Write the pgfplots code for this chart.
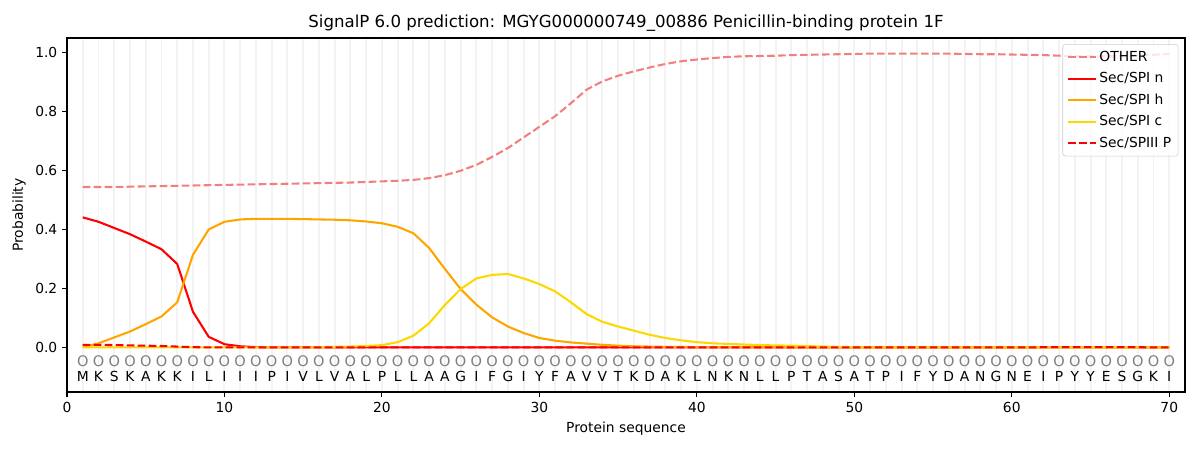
\documentclass[border=0pt]{standalone}
\usepackage{pgfplots}
\pgfplotsset{compat=1.18}
\usepackage{pgfplotstable}
\usepackage{fontspec}
\setmainfont{DejaVu Sans}
\definecolor{lightcoral}{HTML}{F08080}
\definecolor{mplorange}{HTML}{FFA500}
\definecolor{mplgold}{HTML}{FFD700}
\definecolor{gridgray}{HTML}{F3F3F3}
\definecolor{legedge}{HTML}{CCCCCC}

\pgfplotstableread{
x other n h c p l
1 0.545 0.442 0.002 0.001 0.010 M
2 0.545 0.427 0.015 0.001 0.010 K
3 0.545 0.406 0.035 0.001 0.009 S
4 0.546 0.385 0.055 0.001 0.008 K
5 0.547 0.360 0.080 0.001 0.007 A
6 0.548 0.334 0.106 0.001 0.006 K
7 0.549 0.284 0.154 0.001 0.004 K
8 0.550 0.122 0.315 0.001 0.002 I
9 0.551 0.037 0.401 0.001 0.001 L
10 0.552 0.012 0.427 0.001 0.001 I
11 0.553 0.005 0.435 0.001 0.001 I
12 0.554 0.002 0.437 0.001 0.001 I
13 0.555 0.001 0.437 0.001 0.001 P
14 0.556 0.001 0.437 0.001 0.001 I
15 0.557 0.001 0.436 0.001 0.001 V
16 0.558 0.001 0.435 0.002 0.001 L
17 0.559 0.001 0.434 0.003 0.001 V
18 0.560 0.001 0.432 0.004 0.001 A
19 0.562 0.001 0.428 0.006 0.001 L
20 0.564 0.001 0.422 0.009 0.001 P
21 0.566 0.001 0.410 0.019 0.001 L
22 0.569 0.001 0.388 0.041 0.001 L
23 0.575 0.001 0.338 0.083 0.001 A
24 0.585 0.001 0.267 0.145 0.001 A
25 0.600 0.001 0.199 0.199 0.001 G
26 0.620 0.001 0.146 0.235 0.001 I
27 0.647 0.001 0.103 0.247 0.001 F
28 0.677 0.001 0.072 0.250 0.001 G
29 0.713 0.001 0.050 0.235 0.001 I
30 0.749 0.001 0.033 0.216 0.001 Y
31 0.785 0.001 0.024 0.191 0.001 F
32 0.829 0.001 0.018 0.154 0.001 A
33 0.875 0.001 0.014 0.114 0.001 V
34 0.903 0.001 0.010 0.088 0.001 V
35 0.922 0.001 0.007 0.072 0.001 T
36 0.937 0.001 0.005 0.058 0.001 K
37 0.950 0.001 0.004 0.044 0.001 D
38 0.962 0.001 0.003 0.033 0.001 A
39 0.971 0.001 0.003 0.025 0.001 K
40 0.977 0.001 0.002 0.019 0.001 L
41 0.982 0.001 0.002 0.015 0.001 N
42 0.986 0.001 0.002 0.013 0.001 K
43 0.988 0.001 0.002 0.011 0.001 N
44 0.989 0.001 0.001 0.009 0.001 L
45 0.990 0.001 0.001 0.008 0.001 L
46 0.992 0.001 0.001 0.007 0.001 P
47 0.993 0.001 0.001 0.006 0.001 T
48 0.994 0.001 0.001 0.004 0.001 A
49 0.995 0.001 0.001 0.003 0.001 S
50 0.996 0.001 0.001 0.002 0.001 A
51 0.997 0.001 0.001 0.001 0.001 T
52 0.997 0.001 0.001 0.001 0.001 P
53 0.997 0.001 0.001 0.001 0.001 I
54 0.997 0.001 0.001 0.001 0.001 F
55 0.997 0.001 0.001 0.001 0.001 Y
56 0.997 0.001 0.001 0.001 0.001 D
57 0.996 0.001 0.001 0.001 0.001 A
58 0.995 0.001 0.001 0.001 0.001 N
59 0.995 0.001 0.001 0.001 0.001 G
60 0.994 0.001 0.001 0.001 0.001 N
61 0.993 0.001 0.001 0.001 0.001 E
62 0.992 0.001 0.001 0.001 0.002 I
63 0.990 0.001 0.001 0.001 0.002 P
64 0.989 0.001 0.001 0.001 0.002 Y
65 0.988 0.001 0.001 0.001 0.002 Y
66 0.988 0.001 0.001 0.001 0.002 E
67 0.988 0.001 0.001 0.001 0.002 S
68 0.990 0.001 0.001 0.001 0.002 G
69 0.993 0.001 0.001 0.001 0.001 K
70 0.996 0.001 0.001 0.001 0.001 I
}\seqdata

\begin{document}
\begin{tikzpicture}
\begin{axis}[
  scale only axis, width=11.18in, height=3.54in,
  xmin=0, xmax=71, ymin=-0.15, ymax=1.05,
  xtick={0,10,...,70}, ytick={0,0.2,0.4,0.6,0.8,1.0},
  minor xtick={1,...,70},
  xminorgrids=true,
  minor tick length=0pt,
  minor grid style={gridgray, line width=1.4pt},
  tick align=outside, major tick length=3.5pt,
  tick pos=left,
  tick style={black, line width=0.8pt},
  axis line style={line width=0.8pt},
  yticklabel style={/pgf/number format/.cd, fixed, fixed zerofill, precision=1},
  /pgf/number format/assume math mode=true,
  font=\fontsize{10}{12}\selectfont,
  title={SignalP 6.0 prediction: MGYG000000749\_00886 Penicillin-binding protein 1F},
  title style={font=\fontsize{12}{14}\selectfont, yshift=-5pt},
  xlabel={Protein sequence},
  ylabel={Probability},
  legend cell align=left,
  legend image code/.code={\draw[#1] (0pt,0pt) -- (20pt,0pt);},
  legend style={at={(rel axis cs:0.994,0.983)}, anchor=north east,
    draw=legedge, rounded corners=2pt, fill=white, fill opacity=0.8, text opacity=1,
    font=\fontsize{10}{12}\selectfont, row sep=2.5pt, inner sep=3pt},
]
\addplot[lightcoral, line width=1.5pt, dash pattern=on 5.55pt off 2.4pt] table[x=x, y=other] {\seqdata};
\addlegendentry{OTHER}
\addplot[red, line width=1.5pt] table[x=x, y=n] {\seqdata};
\addlegendentry{Sec/SPI n}
\addplot[mplorange, line width=1.5pt] table[x=x, y=h] {\seqdata};
\addlegendentry{Sec/SPI h}
\addplot[mplgold, line width=1.5pt] table[x=x, y=c] {\seqdata};
\addlegendentry{Sec/SPI c}
\addplot[red, line width=1.5pt, dash pattern=on 5.55pt off 2.4pt] table[x=x, y=p] {\seqdata};
\addlegendentry{Sec/SPIII P}
\addplot[forget plot, draw=none, mark=none, nodes near coords={O}, 
  every node near coord/.style={anchor=center, text=gray, font=\fontsize{10.5}{12}\selectfont}]
  table[x=x, y expr=-0.045] {\seqdata};
\addplot[forget plot, draw=none, mark=none, nodes near coords, point meta=explicit symbolic,
  every node near coord/.style={anchor=center, text=black, font=\fontsize{10}{12}\selectfont}]
  table[x=x, y expr=-0.098, meta=l] {\seqdata};
\end{axis}
\pgfresetboundingbox
\useasboundingbox ([xshift=-0.67in, yshift=-0.58in]current axis.south west) rectangle ([xshift=0.15in, yshift=0.38in]current axis.north east);
\end{tikzpicture}
\end{document}
